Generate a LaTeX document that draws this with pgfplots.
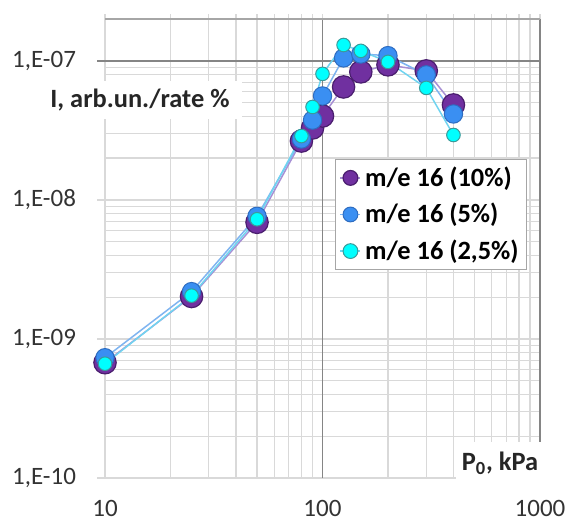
\documentclass[border=0pt]{standalone}
\usepackage{fontspec}
\setmainfont{Carlito}
\usepackage{pgfplots}
\pgfplotsset{compat=1.18}
\definecolor{pur}{HTML}{7030A0}
\definecolor{purdark}{HTML}{4A1E6E}
\definecolor{purline}{HTML}{A890D4}
\definecolor{blu}{HTML}{3A8FF2}
\definecolor{bludark}{HTML}{2E6CC0}
\definecolor{bluline}{HTML}{7FB4F0}
\definecolor{cya}{HTML}{00FFFF}
\definecolor{cyadark}{HTML}{3A9A9A}
\definecolor{cyaline}{HTML}{70D4F0}
\definecolor{gridc}{HTML}{D9D9D9}
\definecolor{darkline}{HTML}{858585}
\definecolor{topline}{HTML}{A6A6A6}
\begin{document}
\begin{tikzpicture}
\useasboundingbox (0,0) rectangle (283.5pt,261pt);
\begin{axis}[
  at={(52.5pt,22pt)}, anchor=south west,
  scale only axis, width=217.5pt, height=229.5pt,
  xmode=log, ymode=log,
  xmin=10, xmax=1000, ymin=1e-10, ymax=2e-7,
  xtick={10,100,1000}, xticklabels={10,100,1000},
  ytick={1e-10,1e-9,1e-8,1e-7},
  yticklabels={{1,E-10},{1,E-09},{1,E-08},{1,E-07}},
  grid=both,
  major grid style={draw=gridc, line width=0.6pt},
  minor grid style={draw=gridc, line width=0.6pt},
  axis line style={draw=none},
  xtick pos=right, xticklabel pos=left,
  ytick pos=left, yticklabel pos=left,
  tick align=outside,
  major tick length=2.5pt, minor tick length=2.5pt,
  xtick style={draw=gridc, line width=0.6pt},
  ytick style={draw=none},
  tick label style={font=\fontsize{12.5}{14}\selectfont, text=black!80},
  xticklabel style={yshift=-5pt},
  yticklabel style={xshift=-8.5pt},
  clip=false,
  legend image code/.code={\draw[mark repeat=2,mark phase=2,#1] plot coordinates {(0pt,0pt) (5pt,0pt) (10pt,0pt)};},
  legend cell align=left,
  legend style={at={(0.529,0.695)}, anchor=north west, draw=topline, line width=0.6pt, fill=white,
    font=\bfseries\fontsize{13.2}{15}\selectfont, inner xsep=2pt, inner ysep=1.5pt, row sep=3pt},
]
% axis-crossing dark lines and borders
\draw[darkline, line width=0.8pt] (axis cs:100,1e-10) -- (axis cs:100,2e-7);
\draw[darkline, line width=0.8pt] ([xshift=-4pt]axis cs:10,1e-7) -- (axis cs:1000,1e-7);
\draw[darkline, line width=0.8pt] (axis cs:1000,1e-10) -- (axis cs:1000,2e-7);
\draw[topline, line width=0.7pt] (axis cs:10,2e-7) -- (axis cs:1000,2e-7);
\draw[gridc, line width=0.6pt] ([xshift=-4pt]axis cs:10,1e-8) -- (axis cs:10,1e-8);
\draw[gridc, line width=0.6pt] ([xshift=-4pt]axis cs:10,1e-9) -- (axis cs:10,1e-9);
\draw[gridc, line width=0.6pt] ([xshift=-4pt]axis cs:10,1e-10) -- (axis cs:10,1e-10);

\addplot[color=purline, line width=0.75pt, mark=*, mark size=5.6pt,
  mark options={fill=pur, draw=purdark, line width=0.6pt},
  legend image post style={mark size=3.7pt}] coordinates {
  (10,6.75e-10) (25,2.02e-9) (50,6.90e-9) (80,2.65e-8) (90,3.29e-8) (100,4.01e-8)
  (125,6.49e-8) (150,8.33e-8) (200,9.36e-8) (300,8.47e-8) (400,4.82e-8)};
\addlegendentry{m/e 16 (10\%)}
\addplot[color=bluline, line width=0.75pt, mark=*, mark size=4.6pt,
  mark options={fill=blu, draw=bludark, line width=0.5pt},
  legend image post style={mark size=3.7pt}] coordinates {
  (10,7.33e-10) (25,2.19e-9) (50,7.62e-9) (80,2.74e-8) (90,3.75e-8) (100,5.59e-8)
  (125,1.05e-7) (150,1.12e-7) (200,1.09e-7) (300,7.93e-8) (400,4.15e-8)};
\addlegendentry{m/e 16 (5\%)}
\addplot[color=cyaline, line width=0.75pt, mark=*, mark size=3.4pt,
  mark options={fill=cya, draw=cyadark, line width=0.5pt},
  legend image post style={mark size=3.7pt}] coordinates {
  (10,6.64e-10) (25,2.05e-9) (50,7.26e-9) (80,2.88e-8) (90,4.66e-8) (100,8.06e-8)
  (125,1.30e-7) (150,1.18e-7) (200,9.83e-8) (300,6.39e-8) (400,2.93e-8)};
\addlegendentry{m/e 16 (2,5\%)}

\node[fill=white, inner xsep=6pt, inner ysep=4pt, anchor=west,
  font=\bfseries\fontsize{13.2}{15}\selectfont, text=black!85]
  at (rel axis cs:-0.154,0.8235) {I, arb.un./rate \%};
\node[fill=white, inner xsep=3pt, inner ysep=5pt,
  font=\bfseries\fontsize{13.2}{15}\selectfont, text=black!85]
  at (rel axis cs:0.908,0.0327) {P\textsubscript{0}, kPa};
\end{axis}
\end{tikzpicture}
\end{document}
